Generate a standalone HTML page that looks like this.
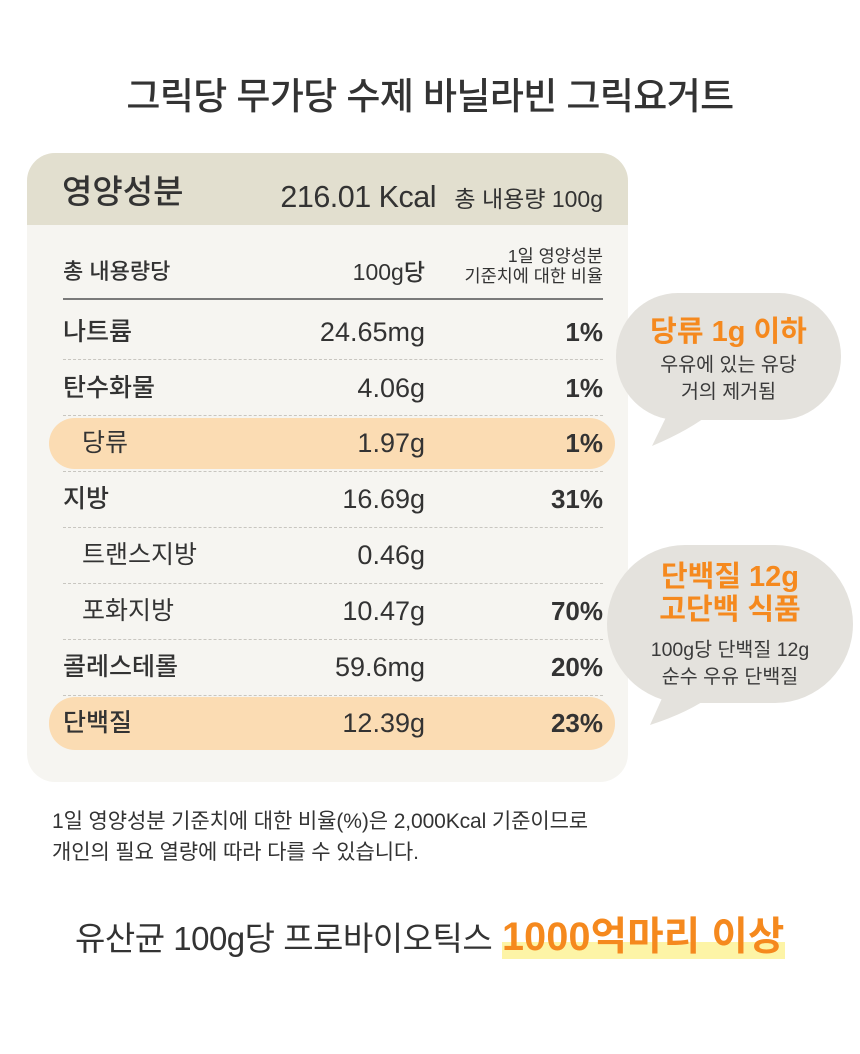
<!DOCTYPE html>
<html><head><meta charset="utf-8">
<style>
*{margin:0;padding:0;box-sizing:border-box}
html,body{width:860px;height:1054px;background:#fff;overflow:hidden}
body{position:relative;font-family:"Liberation Sans","Noto Sans CJK KR",sans-serif;color:#333}
.a{position:absolute;white-space:nowrap}
.title{left:0;width:860px;top:74px;text-align:center;font-size:37px;font-weight:500;color:#333;letter-spacing:-0.6px;line-height:46px}
.card{left:27px;top:153px;width:601px;height:629px;border-radius:28px;background:#f6f5f1;overflow:hidden}
.band{left:0;top:0;width:601px;height:72px;background:#e2dfcf}
.pill{position:absolute;left:49px;width:566px;height:51px;border-radius:26px;background:#fbdcb3}
.row{position:absolute;left:0;width:860px;height:56px;line-height:56px}
.lab{position:absolute;left:63px;font-size:25px;font-weight:500;color:#333;letter-spacing:0px}
.lab.sub{left:82px;font-weight:400}
.val{position:absolute;right:435px;font-size:27px;font-weight:300;color:#333;letter-spacing:0px}
.pct{position:absolute;right:257px;font-size:26px;font-weight:700;color:#333}
.dash{position:absolute;left:63px;width:540px;border-top:1px dashed #c8c6c0;height:0}
.b1{font-size:29px;font-weight:700;color:#f5891e;text-align:center}
.b2{font-size:19.5px;color:#3a3a3a;text-align:center}
</style></head><body>
<div class="a title">그릭당 무가당 수제 바닐라빈 그릭요거트</div>

<div class="a card"><div class="a band"></div></div>

<div class="a" style="left:62px;top:171px;font-size:33px;font-weight:500;line-height:42px;color:#333">영양성분</div>
<div class="a" style="right:424px;top:177px;font-size:30.5px;font-weight:500;line-height:40px;color:#333;letter-spacing:-0.5px">216.01 Kcal</div>
<div class="a" style="right:257px;top:184px;font-size:23px;line-height:30px;color:#333">총 내용량 100g</div>

<div class="a" style="left:63px;top:258px;font-size:22px;line-height:28px;font-weight:500">총 내용량당</div>
<div class="a" style="right:435px;top:258px;font-size:23px;line-height:28px;font-weight:500">100g당</div>
<div class="a" style="right:257px;top:246px;font-size:17.5px;line-height:20px;text-align:right">1일 영양성분<br>기준치에 대한 비율</div>
<div class="a" style="left:63px;top:298px;width:540px;height:2px;background:#7a7a7a"></div>

<div class="pill" style="top:418px"></div>
<div class="pill" style="top:697px;height:53px"></div>

<div class="dash" style="top:359px"></div>
<div class="dash" style="top:415px"></div>
<div class="dash" style="top:471px"></div>
<div class="dash" style="top:527px"></div>
<div class="dash" style="top:583px"></div>
<div class="dash" style="top:639px"></div>
<div class="dash" style="top:695px"></div>

<div class="row" style="top:304px"><span class="lab">나트륨</span><span class="val">24.65mg</span><span class="pct">1%</span></div>
<div class="row" style="top:360px"><span class="lab">탄수화물</span><span class="val">4.06g</span><span class="pct">1%</span></div>
<div class="row" style="top:415px"><span class="lab sub">당류</span><span class="val">1.97g</span><span class="pct">1%</span></div>
<div class="row" style="top:471px"><span class="lab">지방</span><span class="val">16.69g</span><span class="pct">31%</span></div>
<div class="row" style="top:527px"><span class="lab sub">트랜스지방</span><span class="val">0.46g</span></div>
<div class="row" style="top:583px"><span class="lab sub">포화지방</span><span class="val">10.47g</span><span class="pct">70%</span></div>
<div class="row" style="top:639px"><span class="lab">콜레스테롤</span><span class="val">59.6mg</span><span class="pct">20%</span></div>
<div class="row" style="top:695px"><span class="lab">단백질</span><span class="val">12.39g</span><span class="pct">23%</span></div>

<svg class="a" style="left:0;top:0" width="860" height="1054">
  <rect x="616" y="293" width="225" height="127" rx="62" ry="63" fill="#e4e2dd"/>
  <path d="M672 405 L652 446 Q690 430 712 412 Z" fill="#e4e2dd"/>
  <rect x="607" y="545" width="246" height="158" rx="78" ry="79" fill="#e4e2dd"/>
  <path d="M668 685 L650 725 Q690 712 712 695 Z" fill="#e4e2dd"/>
</svg>

<div class="a b1" style="left:616px;width:225px;top:313px;line-height:38px">당류 1g 이하</div>
<div class="a b2" style="left:616px;width:225px;top:352px;line-height:27px">우유에 있는 유당<br>거의 제거됨</div>

<div class="a b1" style="left:607px;width:246px;top:561px;line-height:33px">단백질 12g<br>고단백 식품</div>
<div class="a b2" style="left:607px;width:246px;top:637px;line-height:27px">100g당 단백질 12g<br>순수 우유 단백질</div>

<div class="a" style="left:52px;top:806px;font-size:21px;line-height:31px;color:#333;letter-spacing:-0.1px">1일 영양성분 기준치에 대한 비율(%)은 2,000Kcal 기준이므로<br>개인의 필요 열량에 따라 다를 수 있습니다.</div>

<div class="a" style="left:502px;top:942px;width:283px;height:17px;background:#fdf4a6"></div>
<div class="a" style="left:75px;top:916px;font-size:33px;line-height:46px;color:#333;letter-spacing:-0.5px">유산균 100g당 프로바이오틱스</div>
<div class="a" style="left:502px;top:912px;font-size:39.5px;line-height:50px;font-weight:700;color:#f5891e;letter-spacing:0.2px">1000억마리 이상</div>
</body></html>
